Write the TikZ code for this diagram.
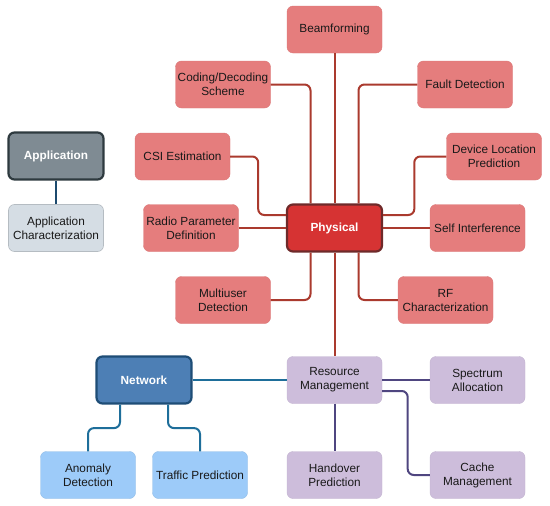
\documentclass[tikz,border=0pt]{standalone}
\usepackage{fontspec}
\setmainfont{Liberation Sans}
\usepackage{tikz}
\definecolor{physlight}{HTML}{E57D7D}
\definecolor{physdark}{HTML}{D63333}
\definecolor{physedge}{HTML}{6E2A2A}
\definecolor{physline}{HTML}{AA3A2E}
\definecolor{appgray}{HTML}{7F8B93}
\definecolor{appedge}{HTML}{2E3A3F}
\definecolor{applight}{HTML}{D5DDE4}
\definecolor{appline}{HTML}{1C4A6E}
\definecolor{netblue}{HTML}{4D7FB5}
\definecolor{netedge}{HTML}{1E4D76}
\definecolor{netlight}{HTML}{9DCBF9}
\definecolor{netline}{HTML}{1E6E9A}
\definecolor{reslight}{HTML}{CDBDDB}
\definecolor{resline}{HTML}{4F4680}
\tikzstyle{box} = [rectangle, rounded corners=6pt, minimum width=95pt, minimum height=47pt, align=center, inner sep=2pt, font=\fontsize{11.8}{14}\selectfont, text=black!90]
\tikzstyle{mainbox} = [box, line width=2.2pt, text=white, font=\fontsize{11.8}{14}\selectfont\bfseries]
\tikzstyle{physmain} = [mainbox, fill=physdark, draw=physedge]
\tikzstyle{physbox} = [box, fill=physlight, draw=physlight!95!black]
\tikzstyle{appmain} = [mainbox, fill=appgray, draw=appedge]
\tikzstyle{appbox} = [box, fill=applight, draw=applight!85!black, line width=0.6pt]
\tikzstyle{netmain} = [mainbox, fill=netblue, draw=netedge]
\tikzstyle{netbox} = [box, fill=netlight, draw=netlight!92!black]
\tikzstyle{resbox} = [box, fill=reslight, draw=reslight!95!black]
\tikzstyle{link} = [line width=2pt, rounded corners=6pt]

\begin{document}
\begin{tikzpicture}[x=1pt, y=-1pt]
	\useasboundingbox (0,0) rectangle (550,506);
	% physical layer
	\node[physmain] (physical) at (334.5,228) {Physical};
	\node[physbox] (beam) at (334.5,29.5) {Beamforming};
	\node[physbox] (coding) at (223,84.5) {Coding/Decoding\\Scheme};
	\node[physbox] (fault) at (465,84.5) {Fault Detection};
	\node[physbox] (csi) at (182.5,156.5) {CSI Estimation};
	\node[physbox] (device) at (494,156.5) {Device Location\\Prediction};
	\node[physbox] (radio) at (191,228) {Radio Parameter\\Definition};
	\node[physbox] (self) at (477.5,228) {Self Interference};
	\node[physbox] (multi) at (223,300) {Multiuser\\Detection};
	\node[physbox] (rf) at (445.5,300) {RF\\Characterization};
	% application layer
	\node[appmain] (app) at (56,156) {Application};
	\node[appbox] (appchar) at (56,228) {Application\\Characterization};
	% network layer
	\node[netmain] (network) at (144,380) {Network};
	\node[netbox] (anomaly) at (88,475) {Anomaly\\Detection};
	\node[netbox] (traffic) at (200,475) {Traffic Prediction};
	% resources
	\node[resbox] (resource) at (334.5,380) {Resource\\Management};
	\node[resbox] (spectrum) at (477.5,380) {Spectrum\\Allocation};
	\node[resbox] (handover) at (334.5,475) {Handover\\Prediction};
	\node[resbox] (cache) at (477.5,475) {Cache\\Management};

	% links
	\draw[link, physline] (beam) -- (physical);
	\draw[link, physline] (coding.east) -| ([xshift=-24pt]physical.north);
	\draw[link, physline] (fault.west) -| ([xshift=24pt]physical.north);
	\draw[link, physline] (csi.east) -- ++(28,0) |- ([yshift=13pt]physical.west);
	\draw[link, physline] (device.west) -- ++(-32,0) |- ([yshift=13pt]physical.east);
	\draw[link, physline] (radio) -- (physical);
	\draw[link, physline] (self) -- (physical);
	\draw[link, physline] ([xshift=-24pt]physical.south) |- (multi.east);
	\draw[link, physline] ([xshift=24pt]physical.south) |- (rf.west);
	\draw[link, physline] (physical) -- (resource);
	\draw[link, appline] (app) -- (appchar);
	\draw[link, netline] (network) -- (resource);
	\draw[link, netline] ([xshift=-24pt]network.south) -- ++(0,23.5) -| (anomaly.north);
	\draw[link, netline] ([xshift=24pt]network.south) -- ++(0,23.5) -| (traffic.north);
	\draw[link, resline] (resource) -- (spectrum);
	\draw[link, resline] (resource) -- (handover);
	\draw[link, resline] ([yshift=-11pt]resource.east) -- ++(25.5,0) |- (cache.west);
\end{tikzpicture}
\end{document}
